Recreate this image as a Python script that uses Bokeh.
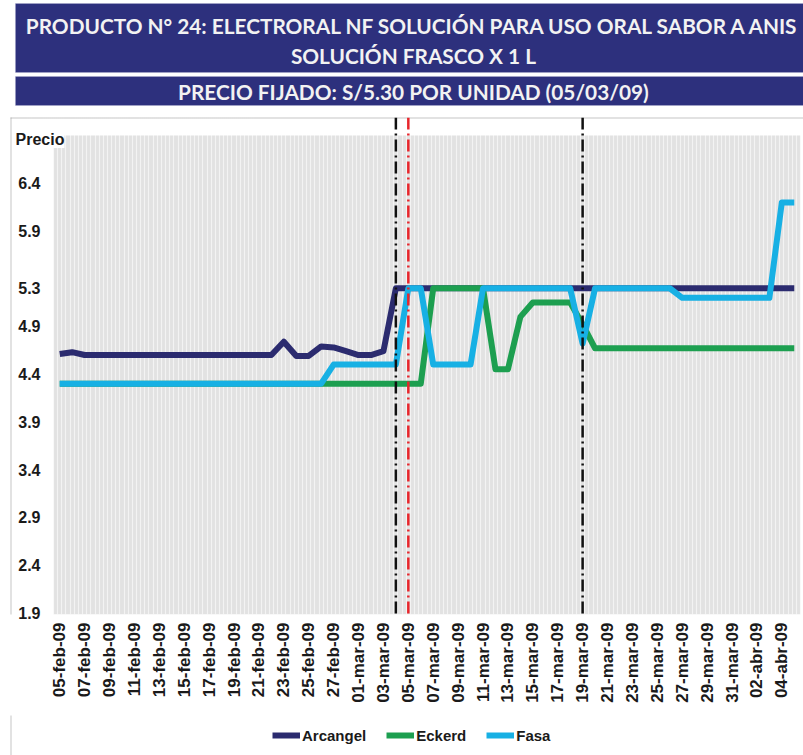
import pandas as pd
import numpy as np
from bokeh.plotting import figure
from bokeh.models import (Range1d, FixedTicker, Span, BoxAnnotation, Label,
                          Legend, LegendItem)
from bokeh.layouts import column
from bokeh.embed import file_html
from bokeh.resources import INLINE

# ---------------- data ----------------
TITLE_1 = "PRODUCTO N° 24: ELECTRORAL NF SOLUCIÓN PARA USO ORAL SABOR A ANIS"
TITLE_2 = "SOLUCIÓN FRASCO X 1 L"
TITLE_3 = "PRECIO FIJADO: S/5.30 POR UNIDAD (05/03/09)"
Y_TITLE = "Precio"
SERIES = ["Arcangel", "Eckerd", "Fasa"]

MESES = {2: "feb", 3: "mar", 4: "abr"}
fechas = pd.date_range("2009-02-05", "2009-04-05", freq="D")
dias = [f"{d.day:02d}-{MESES[d.month]}-09" for d in fechas]

arcangel = [4.61, 4.63, 4.60, 4.60, 4.60, 4.60, 4.60, 4.60, 4.60, 4.60,
            4.60, 4.60, 4.60, 4.60, 4.60, 4.60, 4.60, 4.60, 4.74, 4.59,
            4.59, 4.69, 4.68, 4.64, 4.60, 4.60, 4.64, 5.30, 5.30, 5.30,
            5.30, 5.30, 5.30, 5.30, 5.30, 5.30, 5.30, 5.30, 5.30, 5.30,
            5.30, 5.30, 5.30, 5.30, 5.30, 5.30, 5.30, 5.30, 5.30, 5.30,
            5.30, 5.30, 5.30, 5.30, 5.30, 5.30, 5.30, 5.30, 5.30, 5.30]

eckerd = [4.30, 4.30, 4.30, 4.30, 4.30, 4.30, 4.30, 4.30, 4.30, 4.30,
          4.30, 4.30, 4.30, 4.30, 4.30, 4.30, 4.30, 4.30, 4.30, 4.30,
          4.30, 4.30, 4.30, 4.30, 4.30, 4.30, 4.30, 4.30, 4.30, 4.30,
          5.30, 5.30, 5.30, 5.30, 5.30, 4.45, 4.45, 5.00, 5.15, 5.15,
          5.15, 5.15, 4.92, 4.67, 4.67, 4.67, 4.67, 4.67, 4.67, 4.67,
          4.67, 4.67, 4.67, 4.67, 4.67, 4.67, 4.67, 4.67, 4.67, 4.67]

fasa = [4.30, 4.30, 4.30, 4.30, 4.30, 4.30, 4.30, 4.30, 4.30, 4.30,
        4.30, 4.30, 4.30, 4.30, 4.30, 4.30, 4.30, 4.30, 4.30, 4.30,
        4.30, 4.30, 4.50, 4.50, 4.50, 4.50, 4.50, 4.50, 5.30, 5.30,
        4.50, 4.50, 4.50, 4.50, 5.30, 5.30, 5.30, 5.30, 5.30, 5.30,
        5.30, 5.30, 4.72, 5.30, 5.30, 5.30, 5.30, 5.30, 5.30, 5.30,
        5.20, 5.20, 5.20, 5.20, 5.20, 5.20, 5.20, 5.20, 6.20, 6.20]

y_ticks = [1.9, 2.4, 2.9, 3.4, 3.9, 4.4, 4.9, 5.3, 5.9, 6.4]
lineas_negras = ["04-mar-09", "19-mar-09"]
linea_roja = "05-mar-09"

# ---------------- styling ----------------
NAVY = "#2d307d"
COLORS = ["#2b2b6f", "#1d9f50", "#17b0e4"]
FONT = "Liberation Sans"
W = 803
PX_PER_DAY = 12.45
LEFT_PAD_PX = 43          # white strip between chart border and plot area
FRAME_W = W - 10
Y_LO, Y_HI, GRAY_TOP = 1.88, 7.09, 6.9
BORDER = "#8c8c8c"

# ---------------- title block ----------------
t = figure(width=W, height=115, x_range=Range1d(0, W), y_range=Range1d(0, 115),
           toolbar_location=None, output_backend="svg", min_border=0,
           x_axis_location=None, y_axis_location=None)
t.grid.visible = False
t.outline_line_color = None
t.add_layout(BoxAnnotation(left=5, right=W, bottom=43, top=112, fill_color=NAVY,
                           fill_alpha=1, line_color="#b9bbd6", line_width=1))
t.add_layout(BoxAnnotation(left=5, right=W, bottom=10, top=39, fill_color=NAVY,
                           fill_alpha=1, line_color="#b9bbd6", line_width=1))
for txt, yy in [(TITLE_1, 90), (TITLE_2, 60), (TITLE_3, 24)]:
    t.add_layout(Label(x=408, y=yy, text=txt, text_align="center",
                       text_baseline="middle", text_color="#f2f2f2",
                       text_font="Lato", text_font_style="bold",
                       text_font_size="20.8px"))

# ---------------- main chart ----------------
n = len(dias)
x = list(range(n))
x_start = -0.5 - LEFT_PAD_PX / PX_PER_DAY
x_end = x_start + FRAME_W / PX_PER_DAY
p = figure(width=W, height=600, x_range=Range1d(x_start, x_end),
           y_range=Range1d(Y_LO, Y_HI), toolbar_location=None,
           output_backend="svg", min_border_left=10, min_border_right=0,
           min_border_top=2, min_border_bottom=101)
p.outline_line_color = None
p.background_fill_color = "white"
p.border_fill_color = "white"

p.add_layout(BoxAnnotation(left=-0.5, right=n - 0.5, bottom=Y_LO, top=GRAY_TOP,
                           fill_color="#e2e2e2", fill_alpha=1, line_color=None,
                           level="image"))

p.xgrid.ticker = FixedTicker(ticks=list(np.arange(-0.5, n, 1 / 3)))
p.xgrid.grid_line_color = "white"
p.xgrid.grid_line_alpha = 0.6
p.xgrid.grid_line_width = 1.2
p.ygrid.grid_line_color = None

# dotted chart border (left and top)
p.add_layout(Span(location=x_start, dimension="height", line_color=BORDER,
                  line_width=2, line_dash="1 1"))
p.add_layout(Span(location=Y_HI, dimension="width", line_color=BORDER,
                  line_width=2, line_dash="1 1"))

p.xaxis.ticker = FixedTicker(ticks=x[::2])
p.xaxis.major_label_overrides = {i: dias[i] for i in x[::2]}
p.xaxis.major_label_orientation = np.pi / 2
p.yaxis.ticker = FixedTicker(ticks=y_ticks)
p.yaxis.major_label_overrides = {v: f"{v:.1f}" for v in y_ticks}
for ax in (p.xaxis[0], p.yaxis[0]):
    ax.axis_line_color = None
    ax.major_tick_line_color = None
    ax.minor_tick_line_color = None
    ax.major_tick_out = 0
    ax.major_tick_in = 0
    ax.major_label_text_font = FONT
    ax.major_label_text_font_style = "bold"
    ax.major_label_text_color = "#1a1a1a"
p.xaxis.major_label_text_font_size = "17px"
p.xaxis.major_label_standoff = 8
p.yaxis.major_label_text_font_size = "16px"
p.yaxis.major_label_standoff = -30

series_vals = [arcangel, eckerd, fasa]
for vals, col in zip(series_vals, COLORS):
    p.line(x, vals, line_color=col, line_width=6, line_join="round")

for d in lineas_negras:
    p.add_layout(Span(location=dias.index(d), dimension="height", line_color="#111111",
                      line_width=2.5, line_dash="12 4 2 4"))
p.add_layout(Span(location=dias.index(linea_roja), dimension="height", line_color="#e8262c",
                  line_width=2.5, line_dash="12 4 2 4"))

p.add_layout(Label(x=-0.5, y=6.86, x_offset=-38, text=Y_TITLE, text_align="left",
                   text_baseline="middle", text_font=FONT, text_font_style="bold",
                   text_font_size="16px", text_color="#1a1a1a",
                   background_fill_color="white"))

# ---------------- legend strip ----------------
# same series drawn in a strip whose y-range excludes them: only legend swatches show
lf = figure(width=W, height=40, x_range=Range1d(0, 1), y_range=Range1d(0, 1),
            toolbar_location=None, output_backend="svg", min_border_left=10,
            min_border_right=0, min_border_top=0, min_border_bottom=0,
            x_axis_location=None, y_axis_location=None)
lf.grid.visible = False
lf.outline_line_color = None
lf.add_layout(Span(location=0, dimension="height", line_color=BORDER,
                   line_width=2, line_dash="1 1"))
items = []
for name, vals, col in zip(SERIES, series_vals, COLORS):
    r = lf.line(x, vals, line_color=col, line_width=6)
    items.append(LegendItem(label=name, renderers=[r]))
legend = Legend(items=items, location="left", orientation="horizontal",
                glyph_width=28, glyph_height=20, label_height=20,
                label_standoff=2, spacing=20, padding=0, margin=262,
                border_line_color=None, background_fill_alpha=0,
                label_text_font=FONT, label_text_font_style="bold",
                label_text_font_size="15px", label_text_color="#1a1a1a")
lf.add_layout(legend)

layout = column(t, p, lf, spacing=0)
open("out.html", "w").write(file_html(layout, INLINE))
